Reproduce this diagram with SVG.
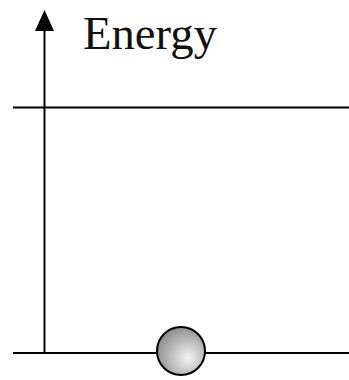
<svg xmlns="http://www.w3.org/2000/svg" width="349" height="380" viewBox="0 0 349 380">
<style>
.ln{stroke:#000;stroke-width:2;fill:none}
.lbl{font-family:"Liberation Serif","Times New Roman",serif;font-size:47px;fill:#111}
</style>
<defs>
<radialGradient id="ball" cx="0.62" cy="0.62" r="0.7" fx="0.65" fy="0.65">
<stop offset="0" stop-color="#f4f4f4"/>
<stop offset="1" stop-color="#858585"/>
</radialGradient>
</defs>
<rect width="349" height="380" fill="#fff"/>
<g id="connectors">
<line class="ln" x1="44.5" y1="353" x2="44.5" y2="28"/>
<path d="M44.5,10 L35,31 L54,31 z" fill="#000"/>
<line class="ln" x1="13" y1="107.5" x2="349" y2="107.5"/>
<line class="ln" x1="13" y1="353" x2="349" y2="353"/>
</g>
<g id="label">
<text class="lbl" x="83" y="49" textLength="134" lengthAdjust="spacingAndGlyphs">Energy</text>
</g>
<g id="ball-node">
<circle cx="181" cy="351" r="24" fill="url(#ball)" stroke="#000" stroke-width="2"/>
</g>
</svg>
